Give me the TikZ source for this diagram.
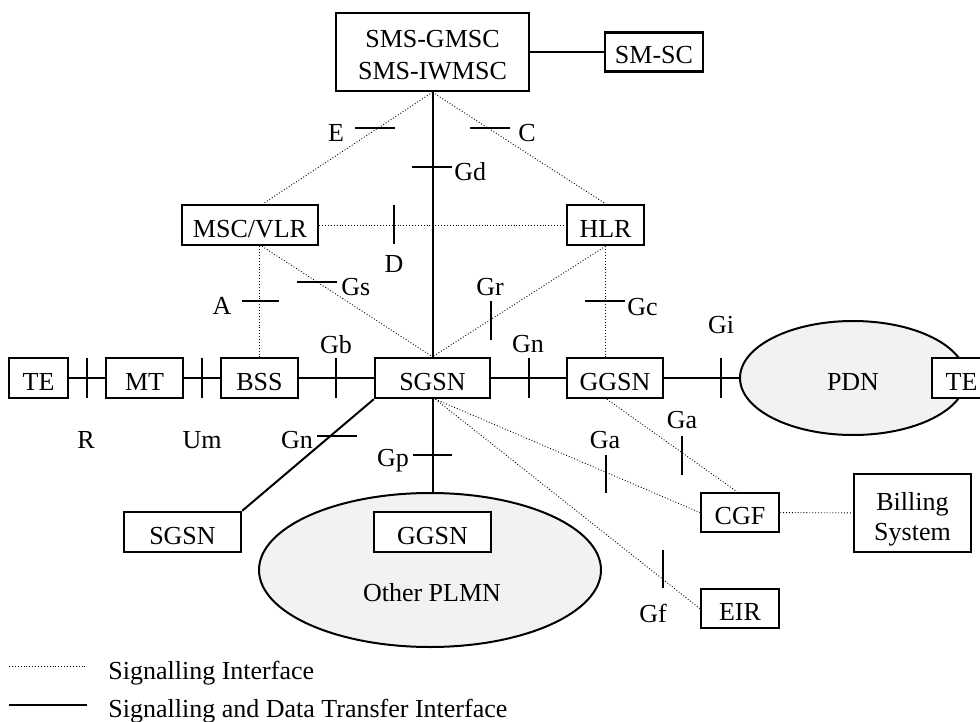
\documentclass[tikz,border=0pt]{standalone}
\usepackage{fontspec}
\setmainfont{Liberation Serif}
\usetikzlibrary{shapes.geometric}
\begin{document}
\begin{tikzpicture}[x=0.5pt,y=-0.5pt,font=\fontsize{13pt}{16pt}\selectfont]
	\tikzstyle{box}=[draw,line width=1.25pt,fill=white,inner sep=0pt,minimum height=20pt,text height=12pt,text depth=0pt]
	\tikzstyle{bigbox}=[draw,line width=1.25pt,fill=white,inner sep=0pt,align=center,text height=28pt,text depth=0pt]
	\tikzstyle{net}=[ellipse,draw,line width=1pt,fill=black!5,inner sep=0pt]
	\tikzstyle{trunk}=[draw,line width=1pt]
	\tikzstyle{sig}=[draw,densely dotted,line width=0.45pt]
	\tikzstyle{tickmark}=[draw,line width=1pt]
	\tikzstyle{lab}=[inner sep=0pt,anchor=base]
	\useasboundingbox (0,0) rectangle (980,722);
	\begin{scope}
		% nodes
		\node [bigbox,minimum width=96.5pt,minimum height=39pt] (gmsc) at (432.5,52) {SMS-GMSC\\SMS-IWMSC};
		\node [box,minimum width=49pt,minimum height=19.5pt] (smsc) at (654,52) {SM-SC};
		\node [box,minimum width=68pt] (msc) at (250,225) {MSC/VLR};
		\node [box,minimum width=38.5pt] (hlr) at (605.5,225) {HLR};
		\node [box,minimum width=29.5pt] (te1) at (38.5,378) {TE};
		\node [box,minimum width=38.5pt] (mt) at (144.5,378) {MT};
		\node [box,minimum width=38.5pt] (bss) at (259.5,378) {BSS};
		\node [box,minimum width=57.5pt] (sgsn) at (432.5,378) {SGSN};
		\node [box,minimum width=48pt] (ggsn) at (615,378) {GGSN};
		\node [net,minimum width=113pt,minimum height=57pt,text height=12pt,text depth=0pt] (pdn) at (853,378) {PDN};
		\node [box,minimum width=29.5pt] (te2) at (961.5,378) {TE};
		\node [box,minimum width=58.5pt] (sgsn2) at (182.5,532) {SGSN};
		\node [net,minimum width=171pt,minimum height=77pt] (plmn) at (430,570) {};
		\node [lab] (plmntext) at (432,601) {Other PLMN};
		\node [box,minimum width=58.5pt] (ggsn2) at (432.5,532) {GGSN};
		\node [box,minimum width=39pt,minimum height=19.5pt] (cgf) at (740,512.5) {CGF};
		\node [bigbox,minimum width=58.5pt,minimum height=39pt,text height=27pt,font=\fontsize{13pt}{15pt}\selectfont] (bill) at (912.5,513) {Billing\\System};
		\node [box,minimum width=39pt,minimum height=19.5pt] (eir) at (740,608.5) {EIR};
		% signalling and data transfer
		\path[trunk] (gmsc) edge (smsc);
		\path[trunk] (gmsc.south) edge (sgsn.north);
		\path[trunk] (te1) edge (mt);
		\path[trunk] (mt) edge (bss);
		\path[trunk] (bss) edge (sgsn);
		\path[trunk] (sgsn) edge (ggsn);
		\path[trunk] (ggsn) edge (pdn.west);
		\path[trunk] (sgsn.south west) edge (sgsn2.north east);
		\path[trunk] (sgsn.south) edge (plmn.north -| sgsn.south);
		% signalling only
		\path[sig] (gmsc.south) edge ([xshift=6.5pt]msc.north);
		\path[sig] (gmsc.south) edge (hlr.north);
		\path[sig] (msc) edge (hlr);
		\path[sig] (msc.south -| bss.north) edge (bss.north);
		\path[sig] ([xshift=6pt]msc.south) edge (sgsn.north);
		\path[sig] (hlr.south) edge (sgsn.north);
		\path[sig] (hlr.south) edge (hlr.south |- ggsn.north);
		\path[sig] ([xshift=1.5pt]sgsn.south) edge (cgf.west);
		\path[sig] ([xshift=1.5pt]sgsn.south) edge (eir.west);
		\path[sig] ([xshift=-4pt]ggsn.south) edge ([xshift=-1.5pt]cgf.north);
		\path[sig] (cgf) edge (bill);
		% interface marks
		\draw[tickmark] (355,128) -- (395,128);
		\draw[tickmark] (470,128) -- (510,128);
		\draw[tickmark] (412,167) -- (452,167);
		\draw[tickmark] (394,205) -- (394,244);
		\draw[tickmark] (242,301) -- (279,301);
		\draw[tickmark] (297,282) -- (337,282);
		\draw[tickmark] (491,301) -- (491,340);
		\draw[tickmark] (585,301) -- (625,301);
		\draw[tickmark] (87,358) -- (87,398);
		\draw[tickmark] (202,358) -- (202,398);
		\draw[tickmark] (336,358) -- (336,398);
		\draw[tickmark] (529,358) -- (529,398);
		\draw[tickmark] (721,358) -- (721,398);
		\draw[tickmark] (317,436) -- (357,436);
		\draw[tickmark] (413,455) -- (452,455);
		\draw[tickmark] (606,455) -- (606,493);
		\draw[tickmark] (682,436) -- (682,475);
		\draw[tickmark] (663,550) -- (663,588);
		% interface names
		\node [lab] (le) at (336,141) {E};
		\node [lab] (lc) at (527,141) {C};
		\node [lab,anchor=base west] (lgd) at (454,180) {Gd};
		\node [lab] (ld) at (394,272) {D};
		\node [lab] (la) at (222,314) {A};
		\node [lab,anchor=base west] (lgs) at (341,295) {Gs};
		\node [lab] (lgr) at (490,295) {Gr};
		\node [lab,anchor=base west] (lgc) at (627,315) {Gc};
		\node [lab] (lgb) at (336,353) {Gb};
		\node [lab] (lgn) at (528,352) {Gn};
		\node [lab] (lgi) at (721,333) {Gi};
		\node [lab] (lr) at (86,448) {R};
		\node [lab] (lum) at (202,448) {Um};
		\node [lab] (lgn2) at (297,448) {Gn};
		\node [lab] (lgp) at (393,466) {Gp};
		\node [lab] (lga) at (605,448) {Ga};
		\node [lab] (lga2) at (682,428) {Ga};
		\node [lab] (lgf) at (653,622) {Gf};
		% legend
		\coordinate (k1) at (9,666);
		\coordinate (k2) at (87,666);
		\coordinate (k3) at (9,705);
		\coordinate (k4) at (87,705);
		\path[sig] (k1) edge (k2);
		\path[trunk] (k3) edge (k4);
		\node [lab,anchor=base west] (ksig) at (108,679) {Signalling Interface};
		\node [lab,anchor=base west] (kdata) at (108,717) {Signalling and Data Transfer Interface};
	\end{scope}
\end{tikzpicture}
\end{document}
